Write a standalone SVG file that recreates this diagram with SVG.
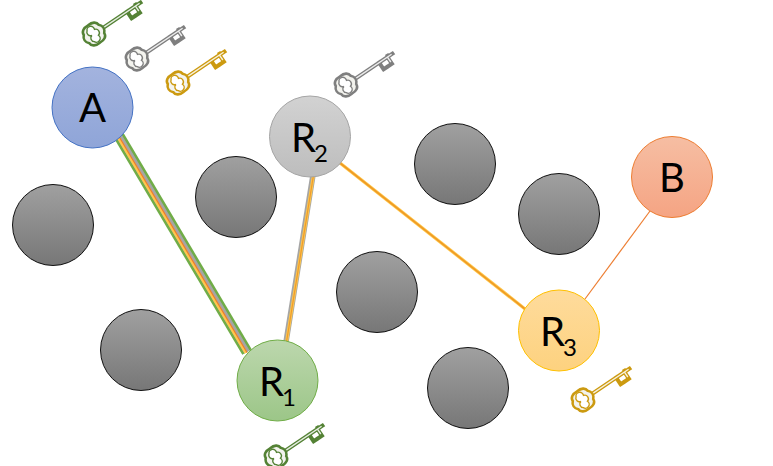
<svg xmlns="http://www.w3.org/2000/svg" xmlns:xlink="http://www.w3.org/1999/xlink" width="773" height="466" viewBox="0 0 773 466">
<style>
text{font-family:Lato,"Open Sans","Liberation Sans",sans-serif;fill:#000}
.m{font-size:40px}
.s{font-size:24px}
.n{stroke-width:1}
.l{fill:none}
</style>
<defs>
<linearGradient id="gG" x1="0" y1="0" x2="0" y2="1"><stop offset="0" stop-color="#a0a0a0"/><stop offset="1" stop-color="#777"/></linearGradient>
<linearGradient id="gA" x1="0" y1="0" x2="0" y2="1"><stop offset="0" stop-color="#a3b3de"/><stop offset="1" stop-color="#8fa5d8"/></linearGradient>
<linearGradient id="gR1" x1="0" y1="0" x2="0" y2="1"><stop offset="0" stop-color="#bcd7ad"/><stop offset="1" stop-color="#9cc688"/></linearGradient>
<linearGradient id="gR2" x1="0" y1="0" x2="0" y2="1"><stop offset="0" stop-color="#d2d2d2"/><stop offset="1" stop-color="#bdbdbd"/></linearGradient>
<linearGradient id="gR3" x1="0" y1="0" x2="0" y2="1"><stop offset="0" stop-color="#fedb9c"/><stop offset="1" stop-color="#fdd27f"/></linearGradient>
<linearGradient id="gB" x1="0" y1="0" x2="0" y2="1"><stop offset="0" stop-color="#f6bea3"/><stop offset="1" stop-color="#f5a483"/></linearGradient>
<g id="key" transform="rotate(-34)">
<path d="M10 0H56M40 0V8M40 8H45M51 0V-1M50 0V7M46 8H50" fill="none" stroke="currentColor" stroke-width="4" stroke-linecap="square"/>
<path d="M10 0H55M50 0V6" fill="none" stroke="#fff" stroke-width="1.4" opacity=".85"/>
<path d="M0-10.5C5-11 9-9 9-5C12-2 12 2 9 5C9 9 5 11 0 10.5C-5 11-9 9-9 5C-12 2-12-2-9-5C-9-9-5-11 0-10.5Z" fill="#f3f3ee" stroke="currentColor" stroke-width="2.6"/>
<path d="M-4-6.5A3.6 3.6 0 0 1 3-3.5A3.6 3.6 0 0 1 3 3.5A3.6 3.6 0 0 1 -4 6.5A3.6 3.6 0 0 1 -2.500 0A3.600 3.600 0 0 1 -4-6.500Z" fill="#fff" stroke="currentColor" stroke-width="1.400"/>
</g>
</defs>
<g id="connectors" class="l">
<path d="M117 137L246 351" stroke="none"/>
<path d="M119 136L247 352" stroke="#70ad47" stroke-width="11"/>
<path d="M119 136L247 352" stroke="#a5a5a5" stroke-width="6"/>
<path d="M118 137L246 353" stroke="#ffc84a" stroke-width="3"/>
<path d="M119 136.500L247 352.500" stroke="#ed7d31" stroke-width="1.300"/>
<path d="M313 175L286 342" stroke="#a5a5a5" stroke-width="5.500"/>
<path d="M313.500 175L286.500 342" stroke="#ffc84a" stroke-width="3"/>
<path d="M313.500 175L286.500 342" stroke="#ed9b31" stroke-width="1.200"/>
<path d="M340 163L525 309" stroke="#ffc84a" stroke-width="3.200"/>
<path d="M340 163L525 309" stroke="#ef9a25" stroke-width="1.600"/>
<path d="M585 299L650 211" stroke="#ed7d31" stroke-width="1.200"/>
</g>
<g id="blocker1"><circle class="n" cx="53" cy="225" r="40.500" fill="url(#gG)" stroke="#111"/></g>
<g id="blocker2"><circle class="n" cx="141" cy="350" r="40.500" fill="url(#gG)" stroke="#111"/></g>
<g id="blocker3"><circle class="n" cx="236" cy="197" r="40.500" fill="url(#gG)" stroke="#111"/></g>
<g id="blocker4"><circle class="n" cx="377" cy="292" r="40.500" fill="url(#gG)" stroke="#111"/></g>
<g id="blocker5"><circle class="n" cx="455" cy="164" r="40.500" fill="url(#gG)" stroke="#111"/></g>
<g id="blocker6"><circle class="n" cx="559" cy="214" r="40.500" fill="url(#gG)" stroke="#111"/></g>
<g id="blocker7"><circle class="n" cx="468" cy="388" r="40.500" fill="url(#gG)" stroke="#111"/></g>
<g id="A"><circle class="n" cx="92.500" cy="107.500" r="40.500" fill="url(#gA)" stroke="#4472c4"/><text class="m" x="92.500" y="122" text-anchor="middle">A</text></g>
<g id="R1"><circle class="n" cx="277.500" cy="380.500" r="40.500" fill="url(#gR1)" stroke="#70ad47"/><text class="m" x="259" y="396">R</text><text class="s" x="282" y="406">1</text></g>
<g id="R2"><circle class="n" cx="310" cy="136.500" r="40.500" fill="url(#gR2)" stroke="#a5a5a5"/><text class="m" x="291" y="152">R</text><text class="s" x="314" y="162">2</text></g>
<g id="R3"><circle class="n" cx="559" cy="330.500" r="40.500" fill="url(#gR3)" stroke="#ffc000"/><text class="m" x="540" y="346">R</text><text class="s" x="563" y="356">3</text></g>
<g id="B"><circle class="n" cx="672" cy="177" r="40.500" fill="url(#gB)" stroke="#ed7d31"/><text class="m" x="672" y="192" text-anchor="middle">B</text></g>
<use id="key1" href="#key" x="94" y="34" color="#548235"/>
<use id="key2" href="#key" x="137" y="59" color="#7f7f7f"/>
<use id="key3" href="#key" x="178" y="83" color="#cc9a10"/>
<use id="key4" href="#key" x="346" y="85" color="#7f7f7f"/>
<use id="key5" href="#key" x="276" y="457" color="#548235"/>
<use id="key6" href="#key" x="583" y="400" color="#cc9a10"/>
</svg>
